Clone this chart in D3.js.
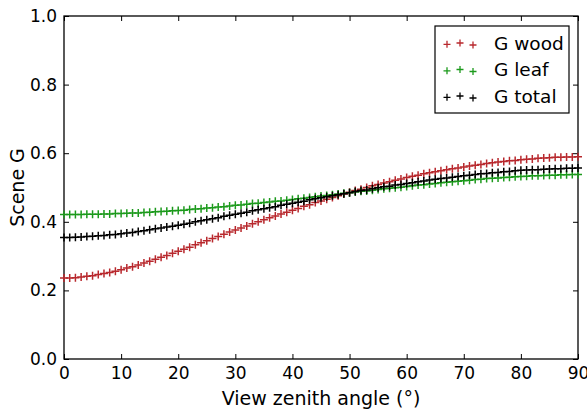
<!DOCTYPE html>
<html>
<head>
<meta charset="utf-8">
<script src="https://cdn.jsdelivr.net/npm/d3@7"></script>
<style>
  body { margin: 0; background: #fff; }
  svg text { font-family: "DejaVu Sans", sans-serif; }
</style>
</head>
<body>
<div id="my_dataviz"></div>
<script>
// view zenith angles, one per degree
const angles = d3.range(0, 91);

// G function values
const gWood = [0.236,
  0.236, 0.237, 0.239, 0.241, 0.243,
  0.246, 0.249, 0.252, 0.256, 0.260,
  0.265, 0.269, 0.274, 0.280, 0.285,
  0.291, 0.297, 0.302, 0.308, 0.314,
  0.320, 0.326, 0.333, 0.339, 0.345,
  0.351, 0.357, 0.364, 0.370, 0.376,
  0.382, 0.388, 0.394, 0.400, 0.406,
  0.412, 0.417, 0.423, 0.428, 0.434,
  0.439, 0.445, 0.450, 0.456, 0.461,
  0.466, 0.471, 0.476, 0.481, 0.486,
  0.491, 0.495, 0.500, 0.505, 0.509,
  0.513, 0.517, 0.521, 0.525, 0.529,
  0.533, 0.536, 0.540, 0.543, 0.546,
  0.549, 0.552, 0.555, 0.557, 0.560,
  0.563, 0.565, 0.567, 0.570, 0.572,
  0.574, 0.576, 0.578, 0.579, 0.581,
  0.582, 0.583, 0.585, 0.586, 0.587,
  0.588, 0.588, 0.589, 0.589, 0.590];

const gLeaf = [0.421,
  0.421, 0.421, 0.421, 0.422, 0.422,
  0.422, 0.423, 0.423, 0.424, 0.424,
  0.425, 0.426, 0.426, 0.427, 0.428,
  0.429, 0.430, 0.431, 0.432, 0.433,
  0.434, 0.436, 0.437, 0.438, 0.440,
  0.441, 0.443, 0.444, 0.446, 0.448,
  0.449, 0.451, 0.453, 0.454, 0.456,
  0.458, 0.460, 0.461, 0.463, 0.465,
  0.467, 0.469, 0.471, 0.473, 0.475,
  0.477, 0.479, 0.481, 0.483, 0.485,
  0.487, 0.489, 0.490, 0.492, 0.494,
  0.496, 0.498, 0.499, 0.501, 0.503,
  0.505, 0.507, 0.508, 0.510, 0.512,
  0.514, 0.515, 0.517, 0.518, 0.520,
  0.521, 0.523, 0.524, 0.526, 0.527,
  0.528, 0.529, 0.530, 0.531, 0.532,
  0.533, 0.534, 0.534, 0.535, 0.536,
  0.536, 0.537, 0.537, 0.538, 0.538];

const gTotal = [0.354,
  0.354, 0.355, 0.356, 0.357, 0.358,
  0.359, 0.360, 0.362, 0.363, 0.365,
  0.367, 0.369, 0.372, 0.374, 0.377,
  0.380, 0.382, 0.385, 0.387, 0.390,
  0.393, 0.396, 0.400, 0.403, 0.406,
  0.409, 0.412, 0.416, 0.419, 0.422,
  0.425, 0.428, 0.432, 0.435, 0.438,
  0.441, 0.444, 0.448, 0.451, 0.454,
  0.457, 0.460, 0.464, 0.467, 0.470,
  0.473, 0.476, 0.479, 0.482, 0.485,
  0.488, 0.491, 0.493, 0.496, 0.499,
  0.502, 0.504, 0.507, 0.509, 0.512,
  0.514, 0.517, 0.519, 0.522, 0.524,
  0.526, 0.528, 0.530, 0.532, 0.534,
  0.536, 0.538, 0.540, 0.541, 0.543,
  0.544, 0.546, 0.547, 0.549, 0.550,
  0.551, 0.552, 0.552, 0.553, 0.554,
  0.555, 0.555, 0.556, 0.556, 0.557];

const seriesNames = ["G wood", "G leaf", "G total"];
const seriesColors = ["#b8282d", "#1c9a1c", "#000000"];
const xTicks = [0, 10, 20, 30, 40, 50, 60, 70, 80, 90];
const yTicks = [0.0, 0.2, 0.4, 0.6, 0.8, 1.0];

// set the dimensions and margins of the graph
const margin = { top: 16, right: 9, bottom: 51, left: 64 },
  width = 587 - margin.left - margin.right,
  height = 410 - margin.top - margin.bottom;

const svg = d3
  .select("#my_dataviz")
  .append("svg")
  .attr("width", 587)
  .attr("height", 410)
  .append("g")
  .attr("transform", `translate(${margin.left},${margin.top})`);

const x = d3.scaleLinear().domain([0, 90]).range([0, width]);
const y = d3.scaleLinear().domain([0, 1]).range([height, 0]);

// axes with inward ticks on all four sides
function styleAxis(g) {
  g.select(".domain").remove();
  g.selectAll("line").attr("stroke", "#000").attr("stroke-width", 1);
  g.selectAll("text").style("font-size", "17px").attr("fill", "#000");
}
svg.append("g")
  .attr("transform", `translate(0,${height})`)
  .call(d3.axisBottom(x).tickValues(xTicks).tickSizeInner(-5).tickSizeOuter(0).tickPadding(8))
  .call(styleAxis);
svg.append("g")
  .call(d3.axisTop(x).tickValues(xTicks).tickSizeInner(-5).tickSizeOuter(0).tickFormat(""))
  .call(styleAxis);
svg.append("g")
  .call(d3.axisLeft(y).tickValues(yTicks).tickSizeInner(-5).tickSizeOuter(0).tickPadding(7).tickFormat(d3.format(".1f")))
  .call(styleAxis);
svg.append("g")
  .attr("transform", `translate(${width},0)`)
  .call(d3.axisRight(y).tickValues(yTicks).tickSizeInner(-5).tickSizeOuter(0).tickFormat(""))
  .call(styleAxis);

// frame
svg.append("rect")
  .attr("width", width).attr("height", height)
  .attr("fill", "none").attr("stroke", "#000").attr("stroke-width", 1.3);

// plus markers
function plusPath(s) {
  return `M${-s},0H${s}M0,${-s}V${s}`;
}

[gWood, gLeaf, gTotal].forEach((vals, k) => {
  svg.append("g")
    .selectAll("path")
    .data(angles)
    .join("path")
    .attr("transform", (d, i) => `translate(${x(d)},${y(vals[i])})`)
    .attr("d", plusPath(4))
    .attr("fill", "none")
    .attr("stroke", seriesColors[k])
    .attr("stroke-width", 1.5);
});

// axis titles
svg.append("text")
  .attr("x", width / 2)
  .attr("y", height + 46)
  .attr("text-anchor", "middle")
  .style("font-size", "19px")
  .text("View zenith angle (°)");
svg.append("text")
  .attr("transform", `translate(-40,${height / 2}) rotate(-90)`)
  .attr("text-anchor", "middle")
  .style("font-size", "19px")
  .text("Scene G");

// legend
const legend = svg.append("g").attr("transform", `translate(${435 - margin.left},${26 - margin.top})`);
legend.append("rect")
  .attr("width", 134).attr("height", 87)
  .attr("fill", "#fff").attr("stroke", "#000").attr("stroke-width", 1.2);
const offs = [[12, 1.3], [25, 0], [38, 2]];
seriesNames.forEach((name, k) => {
  const row = legend.append("g").attr("transform", `translate(0,${17 + k * 26.5})`);
  offs.forEach(([ox, oy]) => {
    row.append("path")
      .attr("transform", `translate(${ox},${oy})`)
      .attr("d", plusPath(3.5))
      .attr("fill", "none")
      .attr("stroke", seriesColors[k])
      .attr("stroke-width", 1.3);
  });
  row.append("text")
    .attr("x", 59)
    .attr("dy", "0.36em")
    .style("font-size", "18.5px")
    .text(name);
});
</script>
</body>
</html>
